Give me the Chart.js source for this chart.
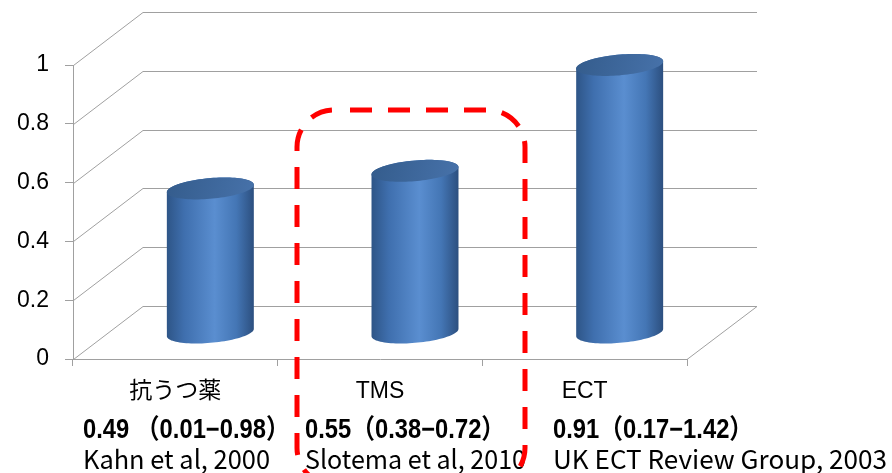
<!DOCTYPE html>
<html>
<head>
<meta charset="utf-8">
<script src="https://cdn.jsdelivr.net/npm/chart.js@4.4.0/dist/chart.umd.min.js"></script>
<style>
  html, body { margin: 0; padding: 0; background: #fff; }
  #wrap { width: 892px; height: 473px; position: relative; }
</style>
</head>
<body>
<div id="wrap"><canvas id="chart"></canvas></div>
<script>
// data
const categories = ["抗うつ薬", "TMS", "ECT"];
const effectSizes = [0.49, 0.55, 0.91];
const effectLabels = ["0.49 （0.01−0.98）", "0.55（0.38−0.72）", "0.91（0.17−1.42）"];
const sourceLabels = ["Kahn et al, 2000", "Slotema et al, 2010", "UK ECT Review Group, 2003"];
const yTicks = [0, 0.2, 0.4, 0.6, 0.8, 1];

// 3D look (oblique depth of the floor / back wall)
const DEPTH_X = 70, DEPTH_Y = -53;
const CYL_R = 41, CYL_DX = 14.5, CYL_DY = 11;
const GRID = "#a0a0a0";

// text rows under the axis
const rowLeft = [83, 305, 553];
const sourceWidth = [187, 221, 334];

function ellipsePt(cx, cy, t) {
  return [cx + CYL_R * Math.cos(t) + CYL_DX * Math.sin(t), cy - CYL_DY * Math.sin(t)];
}

function drawCylinder(ctx, cx, yBase, yTop) {
  const N = 48;
  const tr = Math.atan2(CYL_DX, CYL_R);
  const half = Math.hypot(CYL_R, CYL_DX);

  const body = ctx.createLinearGradient(cx - half, 0, cx + half, 0);
  body.addColorStop(0, "#2e5587");
  body.addColorStop(0.2, "#3f6fae");
  body.addColorStop(0.55, "#5a8ed0");
  body.addColorStop(0.8, "#4476b5");
  body.addColorStop(1, "#2c4f7f");

  ctx.beginPath();
  for (let i = 0; i <= N; i++) {
    const [px, py] = ellipsePt(cx, yBase, tr + Math.PI + Math.PI * i / N);
    i ? ctx.lineTo(px, py) : ctx.moveTo(px, py);
  }
  for (let i = 0; i <= N; i++) {
    const [px, py] = ellipsePt(cx, yTop, tr + Math.PI * i / N);
    ctx.lineTo(px, py);
  }
  ctx.closePath();
  ctx.fillStyle = body;
  ctx.fill();

  // top cap
  const cap = ctx.createLinearGradient(cx - half, yTop - CYL_DY, cx + half, yTop + CYL_DY);
  cap.addColorStop(0, "#345c8c");
  cap.addColorStop(1, "#4772aa");
  ctx.beginPath();
  for (let i = 0; i <= 2 * N; i++) {
    const [px, py] = ellipsePt(cx, yTop, Math.PI * i / N);
    i ? ctx.lineTo(px, py) : ctx.moveTo(px, py);
  }
  ctx.closePath();
  ctx.fillStyle = cap;
  ctx.fill();
}

// draw text squeezed horizontally
function squeezeText(ctx, s, x, y, sx) {
  ctx.save();
  ctx.translate(x, y);
  ctx.scale(sx, 1);
  ctx.fillText(s, 0, 0);
  ctx.restore();
}

function dashedBox(ctx, x, y, w, h, r) {
  ctx.beginPath();
  ctx.moveTo(x + r, y);
  ctx.lineTo(x + w - r, y);
  ctx.arcTo(x + w, y, x + w, y + r, r);
  ctx.lineTo(x + w, y + h - r);
  ctx.arcTo(x + w, y + h, x + w - r, y + h, r);
  ctx.lineTo(x + r, y + h);
  ctx.arcTo(x, y + h, x, y + h - r, r);
  ctx.lineTo(x, y + r);
  ctx.arcTo(x, y, x + r, y, r);
  ctx.stroke();
}

const threeD = {
  id: "threeD",
  beforeDatasetsDraw(chart) {
    const { ctx, chartArea: a, scales: { y } } = chart;
    ctx.save();
    ctx.strokeStyle = GRID;
    ctx.lineWidth = 1;
    ctx.beginPath();
    yTicks.forEach(v => {
      const py = Math.round(y.getPixelForValue(v)) + 0.5;
      ctx.moveTo(a.left + 0.5, py);
      ctx.lineTo(a.left + DEPTH_X, py + DEPTH_Y);
      ctx.lineTo(a.right + DEPTH_X, py + DEPTH_Y);
    });
    const py0 = Math.round(y.getPixelForValue(0)) + 0.5;
    ctx.moveTo(a.right, py0);
    ctx.lineTo(a.right + DEPTH_X, py0 + DEPTH_Y);
    ctx.stroke();
    ctx.restore();
  },
  afterDatasetsDraw(chart) {
    const { ctx, scales: { y } } = chart;
    const meta = chart.getDatasetMeta(0);
    ctx.save();
    meta.data.forEach((bar, i) => {
      const cx = bar.x + DEPTH_X / 2;
      const yBase = y.getPixelForValue(0) + DEPTH_Y / 2;
      const yTop = y.getPixelForValue(effectSizes[i]) + DEPTH_Y / 2;
      drawCylinder(ctx, cx, yBase, yTop);
    });
    ctx.restore();
  },
  afterDraw(chart) {
    const ctx = chart.ctx;
    ctx.save();
    ctx.fillStyle = "#000";
    ctx.textAlign = "left";
    ctx.textBaseline = "alphabetic";
    ctx.font = 'bold 27px "Liberation Sans", "Noto Sans CJK JP", sans-serif';
    effectLabels.forEach((s, i) => squeezeText(ctx, s, rowLeft[i], 438, 0.88));
    ctx.font = '26px "Noto Sans CJK JP", sans-serif';
    sourceLabels.forEach((s, i) => {
      squeezeText(ctx, s, rowLeft[i], 469, sourceWidth[i] / ctx.measureText(s).width);
    });

    // highlight box around TMS
    ctx.strokeStyle = "#ff0000";
    ctx.lineWidth = 5;
    ctx.setLineDash([22, 16]);
    ctx.lineDashOffset = 22;
    dashedBox(ctx, 297, 110, 228, 375, 37);
    ctx.restore();
  }
};

new Chart(document.getElementById("chart"), {
  type: "bar",
  data: {
    labels: categories,
    datasets: [{ data: effectSizes, backgroundColor: "rgba(0,0,0,0)", borderWidth: 0 }]
  },
  options: {
    responsive: true,
    maintainAspectRatio: false,
    animation: false,
    devicePixelRatio: 1,
    events: [],
    layout: { padding: { top: 65, right: 205, left: 0, bottom: 0 } },
    plugins: { legend: { display: false }, tooltip: { enabled: false } },
    scales: {
      x: {
        grid: { drawOnChartArea: false, drawTicks: true, tickLength: 7, color: GRID, offset: true },
        border: { color: GRID },
        ticks: {
          color: "#000",
          padding: 12,
          maxRotation: 0,
          autoSkip: false,
          font: { family: '"Liberation Sans", "Noto Sans CJK JP", sans-serif', size: 23 }
        },
        afterFit(s) { s.height = 114; }
      },
      y: {
        min: 0,
        max: 1,
        grid: { drawOnChartArea: false, tickLength: 8, color: GRID },
        border: { color: GRID },
        ticks: {
          color: "#000",
          padding: 16,
          font: { family: '"Liberation Sans", Arial, sans-serif', size: 23 },
          callback: v => String(v)
        },
        afterBuildTicks(s) { s.ticks = yTicks.map(v => ({ value: v })); },
        afterFit(s) { s.width = 73; }
      }
    }
  },
  plugins: [threeD]
});
</script>
</body>
</html>
